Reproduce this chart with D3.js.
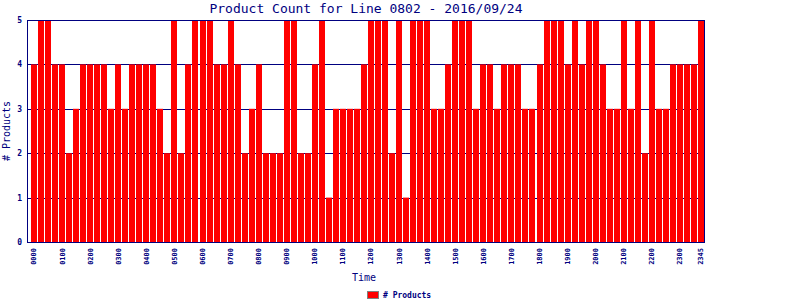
<!DOCTYPE html>
<html>
<head>
<meta charset="utf-8">
<script src="https://cdn.jsdelivr.net/npm/d3@7"></script>
<style>
  body { margin: 0; background: #fff; }
  svg text { font-family: "DejaVu Sans Mono", monospace; fill: #000080; }
</style>
</head>
<body>
<div id="chartContainer"></div>
<script>
const width = 800;
const height = 300;
const marginTop = 20;
const marginRight = 95;
const marginBottom = 58;
const marginLeft = 27;

// 15 minute slots for the day
const times = [];
for (let h = 0; h < 24; h++) {
    for (let m = 0; m < 60; m += 15) {
        times.push(String(h).padStart(2, "0") + String(m).padStart(2, "0"));
    }
}

const counts = [
    4,5,5,4,4,2,3,4,4,4,4,3,4,3,4,4,4,4,3,2,5,2,4,5,5,5,4,
    4,5,4,2,3,4,2,2,2,5,5,2,2,4,5,1,3,3,3,3,4,5,5,5,2,5,
    1,5,5,5,3,3,4,5,5,5,3,4,4,3,4,4,4,3,3,4,5,5,5,4,5,
    4,5,5,4,3,3,5,3,5,2,5,3,3,4,4,4,4,5
];

const tickLabels = ["0000","0100","0200","0300","0400","0500","0600","0700","0800","0900",
    "1000","1100","1200","1300","1400","1500","1600","1700","1800","1900","2000","2100",
    "2200","2300","2345"];

const yTicks = [0, 1, 2, 3, 4, 5];

const data = times.map((t, i) => ({ time: t, count: counts[i] }));

const svg = d3.select("#chartContainer")
    .append("svg")
    .attr("width", width)
    .attr("height", height);

const plotRight = width - marginRight;
const plotBottom = height - marginBottom;

const xScale = d3.scaleBand()
    .domain(times)
    .range([marginLeft + 4, plotRight - 1])
    .paddingInner(1 / 7)
    .paddingOuter(0);

const yScale = d3.scaleLinear()
    .domain([0, 5])
    .range([plotBottom, marginTop]);

// grid lines
svg.append("g")
    .selectAll("line")
    .data(yTicks)
    .join("line")
    .attr("x1", marginLeft)
    .attr("x2", plotRight)
    .attr("y1", d => Math.round(yScale(d)) + 0.5)
    .attr("y2", d => Math.round(yScale(d)) + 0.5)
    .attr("stroke", "#000080")
    .attr("stroke-width", 1);

svg.append("g")
    .selectAll("rect")
    .data(data)
    .join("rect")
    .attr("x", d => Math.round(xScale(d.time)))
    .attr("y", d => yScale(d.count))
    .attr("width", 6)
    .attr("height", d => plotBottom - yScale(d.count))
    .attr("fill", "#ff0000");

// frame
svg.append("rect")
    .attr("x", marginLeft + 0.5)
    .attr("y", marginTop + 0.5)
    .attr("width", plotRight - marginLeft - 1)
    .attr("height", plotBottom - marginTop)
    .attr("fill", "none")
    .attr("stroke", "#000080")
    .attr("stroke-width", 1);

const yAxis = svg.append("g")
    .attr("transform", `translate(${marginLeft}, 0)`)
    .call(d3.axisLeft(yScale).tickValues(yTicks).tickFormat(d3.format("d")).tickSize(0).tickPadding(5));
yAxis.select(".domain").remove();
yAxis.selectAll("text")
    .style("font-size", "8px")
    .style("font-weight", "bold");

const xAxis = svg.append("g")
    .attr("transform", `translate(0, ${plotBottom})`)
    .call(d3.axisBottom(xScale).tickValues(tickLabels).tickSize(0));
xAxis.select(".domain").remove();
xAxis.selectAll("text")
    .attr("transform", "rotate(-90)")
    .attr("x", -6)
    .attr("y", 0)
    .attr("dy", "0.35em")
    .style("text-anchor", "end")
    .style("font-size", "7px")
    .style("font-weight", "bold");

svg.append("text")
    .attr("x", (marginLeft + plotRight) / 2)
    .attr("y", 13)
    .style("text-anchor", "middle")
    .style("font-size", "13px")
    .text("Product Count for Line 0802 - 2016/09/24");

svg.append("text")
    .attr("x", (marginLeft + plotRight) / 2 - 2)
    .attr("y", 281)
    .style("text-anchor", "middle")
    .style("font-size", "10px")
    .text("Time");

svg.append("text")
    .attr("transform", "rotate(-90)")
    .attr("x", -(marginTop + plotBottom) / 2)
    .attr("y", 10)
    .style("text-anchor", "middle")
    .style("font-size", "10px")
    .text("# Products");

// legend
svg.append("rect")
    .attr("x", 367.5)
    .attr("y", 291.5)
    .attr("width", 11)
    .attr("height", 7)
    .attr("fill", "#ff0000")
    .attr("stroke", "#808080");

svg.append("text")
    .attr("x", 383)
    .attr("y", 298)
    .style("font-size", "8px")
    .style("font-weight", "bold")
    .text("# Products");
</script>
</body>
</html>
